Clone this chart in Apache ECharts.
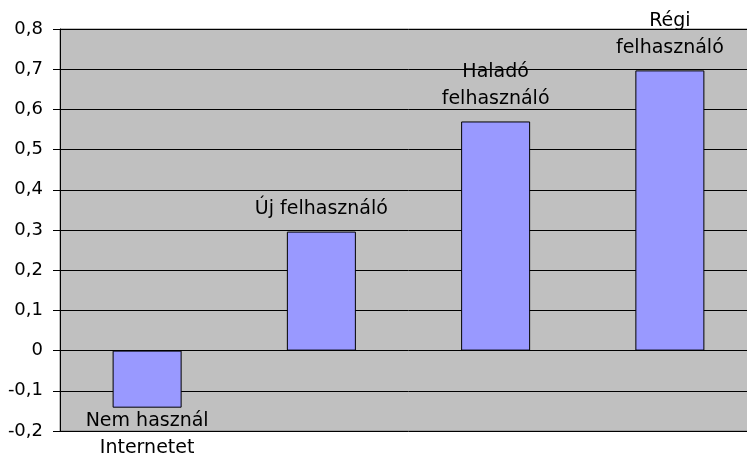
<!DOCTYPE html>
<html>
<head>
<meta charset="utf-8">
<script src="https://cdn.jsdelivr.net/npm/echarts@6/dist/echarts.min.js"></script>
<style>
  html, body { margin: 0; padding: 0; background: #fff; overflow: hidden; }
  #wrap { width: 747px; height: 456px; overflow: hidden; }
  #chart { width: 757px; height: 456px; }
</style>
</head>
<body>
<div id="wrap"><div id="chart"></div></div>
<script>
// adatok
const categories = ["Nem használ\nInternetet", "Új felhasználó", "Haladó\nfelhasználó", "Régi\nfelhasználó"];
const values = [-0.142, 0.296, 0.57, 0.697];

const chart = echarts.init(document.getElementById("chart"));
const font = "DejaVu Sans";

const seriesData = values.map((v, i) => ({
  value: v,
  label: { position: v < 0 ? "bottom" : "top", distance: v < 0 ? 0 : 9 }
}));

// a rajzterület jobb széle kilóg a képből (a div szélesebb, le van vágva)
chart.setOption({
  animation: false,
  grid: {
    left: 60, right: 0, top: 29, bottom: 25,
    show: true,
    backgroundColor: "#c0c0c0",
    borderColor: "#808080",
    borderWidth: 1
  },
  xAxis: {
    type: "category",
    data: categories,
    axisLine: { show: false },
    axisTick: { show: false },
    axisLabel: { show: false }
  },
  yAxis: {
    type: "value",
    min: -0.2, max: 0.8, interval: 0.1,
    axisLine: { show: true, lineStyle: { color: "#000", width: 1 } },
    axisTick: { show: true, inside: false, length: 7, lineStyle: { color: "#000" } },
    splitLine: { show: true, lineStyle: { color: "#000", width: 1 } },
    axisLabel: {
      margin: 17,
      color: "#000",
      fontFamily: font,
      fontSize: 18,
      formatter: v => String(Math.round(v * 10) / 10).replace(".", ",")
    }
  },
  series: [{
    type: "bar",
    data: seriesData,
    barWidth: "39.6%",
    itemStyle: { color: "#9999ff", borderColor: "#000", borderWidth: 1 },
    label: {
      show: true,
      formatter: p => categories[p.dataIndex],
      color: "#000",
      fontFamily: font,
      fontSize: 19,
      lineHeight: 27,
      align: "center"
    }
  }]
});
</script>
</body>
</html>
